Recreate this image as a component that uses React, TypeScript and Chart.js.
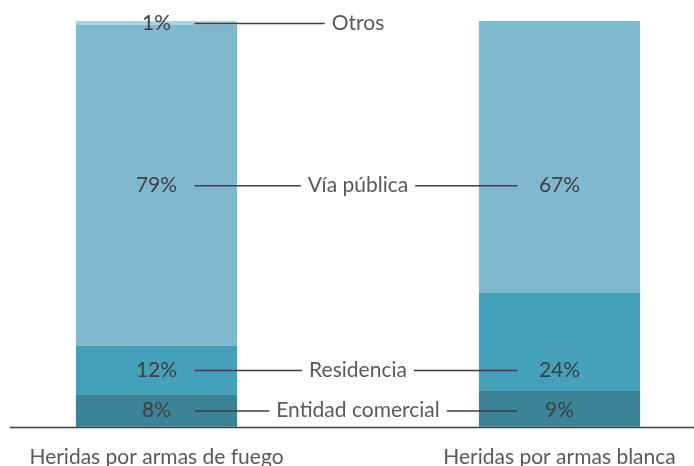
import React, { useEffect, useRef } from "react";
import { Chart, registerables } from "chart.js";

Chart.register(...registerables);

const categories = ["Heridas por armas de fuego", "Heridas por armas blanca"];
const seriesNames = ["Entidad comercial", "Residencia", "Vía pública", "Otros"];
const entidadComercial = [8, 9];
const residencia = [12, 24];
const viaPublica = [79, 67];
const otros = [1, 0];
const valueLabels = [
  ["8%", "9%"],
  ["12%", "24%"],
  ["79%", "67%"],
  ["1%", ""],
];
const colors = ["#3b8497", "#45a0b9", "#7fb8cf", "#add2de"];

const FONT = "Lato, 'Open Sans', sans-serif";
const FS = 21;

const labelPlugin = {
  id: "seriesLabels",
  afterDatasetsDraw(chart: any) {
    const ctx = chart.ctx;
    const area = chart.chartArea;
    ctx.save();
    ctx.strokeStyle = "#404040";
    ctx.lineWidth = 1.3;
    ctx.beginPath();
    ctx.moveTo(10, Math.round(area.bottom) + 0.5);
    ctx.lineTo(chart.width, Math.round(area.bottom) + 0.5);
    ctx.stroke();

    ctx.font = `${FS}px ${FONT}`;
    ctx.textBaseline = "middle";
    chart.data.datasets.forEach((ds: any, i: number) => {
      const meta = chart.getDatasetMeta(i);
      const b0 = meta.data[0];
      const b1 = meta.data[1];
      const y = (b0.y + b0.base) / 2;
      const x0 = b0.x;
      const x1 = b1.x;
      const mid = (x0 + x1) / 2;
      ctx.fillStyle = "#404040";
      ctx.textAlign = "center";
      if (valueLabels[i][0]) ctx.fillText(valueLabels[i][0], x0, y);
      if (valueLabels[i][1]) ctx.fillText(valueLabels[i][1], x1, y);
      ctx.fillStyle = "#595959";
      ctx.fillText(ds.label, mid, y);
      const w = ctx.measureText(ds.label).width;
      ctx.strokeStyle = "#404040";
      ctx.lineWidth = 1.5;
      ctx.beginPath();
      ctx.moveTo(x0 + 38, y + 0.5);
      ctx.lineTo(mid - w / 2 - 7, y + 0.5);
      if (valueLabels[i][1]) {
        ctx.moveTo(mid + w / 2 + 7, y + 0.5);
        ctx.lineTo(x1 - 42, y + 0.5);
      }
      ctx.stroke();
    });
    ctx.restore();
  },
};

export default function App() {
  const ref = useRef<HTMLCanvasElement>(null);
  useEffect(() => {
    if (!ref.current) return;
    const values = [entidadComercial, residencia, viaPublica, otros];
    const chart = new Chart(ref.current, {
      type: "bar",
      data: {
        labels: categories,
        datasets: seriesNames.map((name, i) => ({
          label: name,
          data: values[i],
          backgroundColor: colors[i],
          borderWidth: 0,
          barPercentage: 0.4,
          categoryPercentage: 1,
          clip: false as any,
        })),
      },
      options: {
        animation: false,
        responsive: false,
        maintainAspectRatio: false,
        layout: { padding: { left: 156.5, right: 134.5, top: 21, bottom: -22 } },
        plugins: {
          legend: { display: false },
          tooltip: { enabled: false },
        },
        scales: {
          x: {
            stacked: true,
            offset: false,
            grid: { display: false, drawTicks: false },
            border: { display: false },
            ticks: {
              color: "#595959",
              font: { family: FONT, size: FS },
              padding: 18,
              maxRotation: 0,
              autoSkip: false,
            },
          },
          y: {
            stacked: true,
            display: false,
            min: 0,
            max: 100,
          },
        },
      },
      plugins: [labelPlugin],
    });
    return () => chart.destroy();
  }, []);
  return (
    <div style={{ position: "fixed", left: 0, top: 0, width: 694, height: 466, background: "#fff" }}>
      <canvas ref={ref} width={694} height={466} style={{ width: 694, height: 466 }} />
    </div>
  );
}
